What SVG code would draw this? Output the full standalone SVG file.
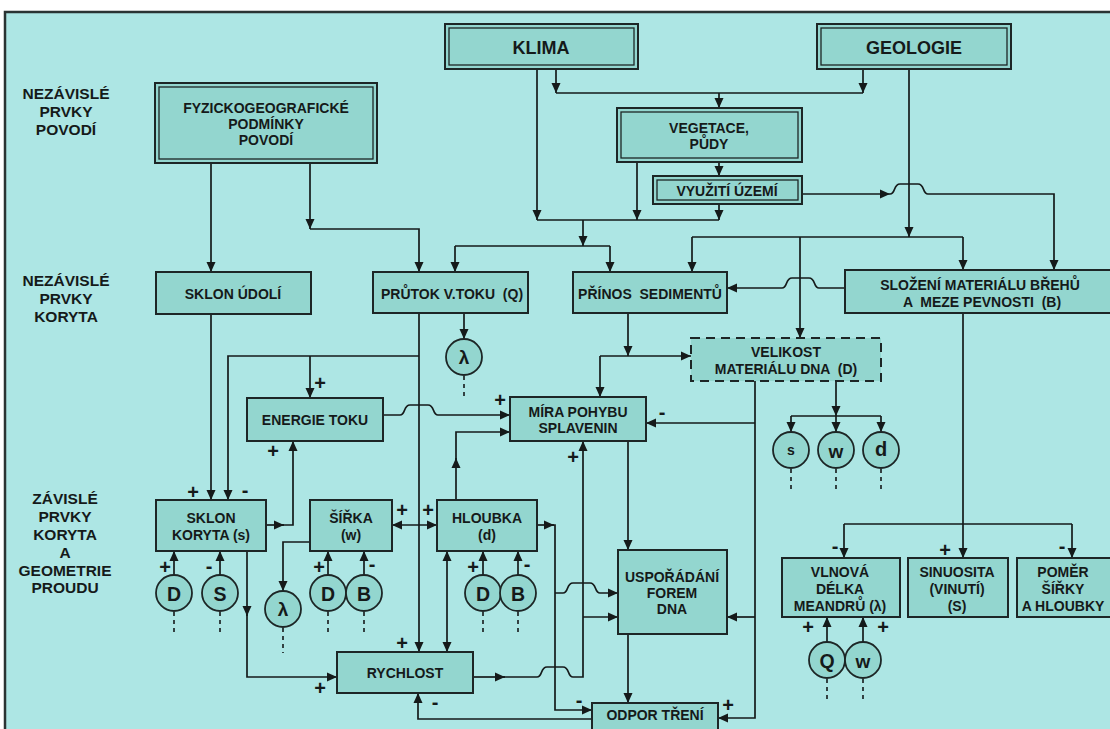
<svg xmlns="http://www.w3.org/2000/svg" width="1110" height="729" viewBox="0 0 1110 729">
<defs>
<marker id="ah" viewBox="0 0 10 10" refX="10" refY="5" markerWidth="10" markerHeight="10" markerUnits="userSpaceOnUse" orient="auto-start-reverse"><path d="M0,0.5 L10,5 L0,9.5 z" fill="#151a1a"/></marker>
<style>
.bg{fill:#ade6e4;stroke:#2a3333;stroke-width:2.5}
.box{fill:#93d6cf;stroke:#1d2626;stroke-width:2}
.dash{fill:#93d6cf;stroke:#1d2626;stroke-width:2;stroke-dasharray:9,6}
.in{fill:none;stroke:#1d2626;stroke-width:1.3}
.cir{fill:#93d6cf;stroke:#1d2626;stroke-width:1.8}
.ln{fill:none;stroke:#151a1a;stroke-width:1.7}
.dl{fill:none;stroke:#151a1a;stroke-width:1.6;stroke-dasharray:4,4}
.t{font-family:"Liberation Sans",Arial,sans-serif;font-weight:bold;font-size:14px;fill:#151a1a;text-anchor:middle}
.lab{font-family:"Liberation Sans",Arial,sans-serif;font-weight:bold;font-size:15.5px;fill:#151a1a;text-anchor:middle}
.big{font-family:"Liberation Sans",Arial,sans-serif;font-weight:bold;font-size:18px;fill:#151a1a;text-anchor:middle}
.cl{font-family:"Liberation Sans",Arial,sans-serif;font-weight:bold;font-size:19.5px;fill:#151a1a;text-anchor:middle;dominant-baseline:central}
.sg{font-family:"Liberation Sans",Arial,sans-serif;font-weight:bold;font-size:20px;fill:#151a1a;text-anchor:middle;dominant-baseline:central}
</style>
</defs>
<rect x="0" y="0" width="1110" height="729" fill="#ffffff"/>
<rect class="bg" x="5" y="12" width="1115" height="725"/>

<g id="labels">
<text class="lab" x="66" y="99">NEZÁVISLÉ</text>
<text class="lab" x="66" y="117">PRVKY</text>
<text class="lab" x="66" y="135">POVODÍ</text>
<text class="lab" x="66" y="286">NEZÁVISLÉ</text>
<text class="lab" x="66" y="304">PRVKY</text>
<text class="lab" x="66" y="322">KORYTA</text>
<text class="lab" x="65" y="504">ZÁVISLÉ</text>
<text class="lab" x="65" y="522">PRVKY</text>
<text class="lab" x="65" y="540">KORYTA</text>
<text class="lab" x="65" y="558">A</text>
<text class="lab" x="65" y="576">GEOMETRIE</text>
<text class="lab" x="65" y="593">PROUDU</text>
</g>

<g id="connectors">
<path class="ln" d="M556,70 V93" marker-end="url(#ah)"/>
<path class="ln" d="M863,70 V93" marker-end="url(#ah)"/>
<path class="ln" d="M556,93 H863"/>
<path class="ln" d="M719,93 V108" marker-end="url(#ah)"/>
<path class="ln" d="M719,162 V176" marker-end="url(#ah)"/>
<path class="ln" d="M537,70 V220" marker-end="url(#ah)"/>
<path class="ln" d="M637,162 V220" marker-end="url(#ah)"/>
<path class="ln" d="M719,204 V220" marker-end="url(#ah)"/>
<path class="ln" d="M537,220 H719"/>
<path class="ln" d="M583,220 V246" marker-end="url(#ah)"/>
<path class="ln" d="M455,246 H610"/>
<path class="ln" d="M455,246 V272" marker-end="url(#ah)"/>
<path class="ln" d="M610,246 V272" marker-end="url(#ah)"/>
<path class="ln" d="M211,163 V272" marker-end="url(#ah)"/>
<path class="ln" d="M310,163 V229" marker-end="url(#ah)"/>
<path class="ln" d="M310,229 H419 V272" marker-end="url(#ah)"/>
<path class="ln" d="M802,194 H890" marker-end="url(#ah)"/>
<path class="ln" d="M890,194 C896,194 893,184 900,184 H918 C925,184 922,194 928,194 H1054 V270" marker-end="url(#ah)"/>
<path class="ln" d="M909,69 V237" marker-end="url(#ah)"/>
<path class="ln" d="M692,237 H963"/>
<path class="ln" d="M692,237 V272" marker-end="url(#ah)"/>
<path class="ln" d="M800,237 V338" marker-end="url(#ah)"/>
<path class="ln" d="M963,237 V270" marker-end="url(#ah)"/>
<path class="ln" d="M845,288 H819 C813,288 816,278 809,278 H792 C785,278 788,288 782,288 H727" marker-end="url(#ah)"/>
<path class="ln" d="M628,313 V356" marker-end="url(#ah)"/>
<path class="ln" d="M600,356 H691" marker-end="url(#ah)"/>
<path class="ln" d="M600,356 V397" marker-end="url(#ah)"/>
<path class="ln" d="M755,381 V718 H718" marker-end="url(#ah)"/>
<path class="ln" d="M755,423 H646" marker-end="url(#ah)"/>
<path class="ln" d="M755,617 H727" marker-end="url(#ah)"/>
<path class="ln" d="M836,381 V416" marker-end="url(#ah)"/>
<path class="ln" d="M791,416 H881"/>
<path class="ln" d="M791,416 V432" marker-end="url(#ah)"/>
<path class="ln" d="M836,416 V432" marker-end="url(#ah)"/>
<path class="ln" d="M881,416 V432" marker-end="url(#ah)"/>
<path class="ln" d="M628,441 V550" marker-end="url(#ah)"/>
<path class="ln" d="M628,634 V703" marker-end="url(#ah)"/>
<path class="ln" d="M464,313 V339" marker-end="url(#ah)"/>
<path class="ln" d="M419,313 V652" marker-end="url(#ah)"/>
<path class="ln" d="M419,356 H228 V500" marker-end="url(#ah)"/>
<path class="ln" d="M310,356 V398" marker-end="url(#ah)"/>
<path class="ln" d="M211,314 V500" marker-end="url(#ah)"/>
<path class="ln" d="M383,415 H400 C406,415 403,405 410,405 H428 C435,405 432,415 438,415 H510" marker-end="url(#ah)"/>
<path class="ln" d="M456,500 V458" marker-end="url(#ah)"/>
<path class="ln" d="M456,460 V432 H510" marker-end="url(#ah)"/>
<path class="ln" d="M266,525 H284" marker-end="url(#ah)"/>
<path class="ln" d="M282,525 H293 V441" marker-end="url(#ah)"/>
<path class="ln" d="M392,525 H437" marker-start="url(#ah)" marker-end="url(#ah)"/>
<path class="ln" d="M310,542 H283 V591" marker-end="url(#ah)"/>
<path class="ln" d="M174,575 V551" marker-end="url(#ah)"/>
<path class="ln" d="M220,575 V551" marker-end="url(#ah)"/>
<path class="ln" d="M328,575 V551" marker-end="url(#ah)"/>
<path class="ln" d="M364,575 V551" marker-end="url(#ah)"/>
<path class="ln" d="M483,575 V551" marker-end="url(#ah)"/>
<path class="ln" d="M518,575 V551" marker-end="url(#ah)"/>
<path class="ln" d="M827,642 V617" marker-end="url(#ah)"/>
<path class="ln" d="M863,642 V617" marker-end="url(#ah)"/>
<path class="ln" d="M247,551 V616" marker-end="url(#ah)"/>
<path class="ln" d="M247,614 V677 H337" marker-end="url(#ah)"/>
<path class="ln" d="M447,551 V652" marker-start="url(#ah)" marker-end="url(#ah)"/>
<path class="ln" d="M537,525 H554" marker-end="url(#ah)"/>
<path class="ln" d="M552,525 H555 V710 H592" marker-end="url(#ah)"/>
<path class="ln" d="M555,593 H563 C569,593 566,583 573,583 H590 C597,583 594,593 600,593 H618" marker-end="url(#ah)"/>
<path class="ln" d="M473,677 H505" marker-end="url(#ah)"/>
<path class="ln" d="M503,677 H537 C543,677 540,667 547,667 H563 C570,667 567,677 573,677 H583 V441" marker-end="url(#ah)"/>
<path class="ln" d="M583,617 H618" marker-end="url(#ah)"/>
<path class="ln" d="M592,719 H418 V693" marker-end="url(#ah)"/>
<path class="ln" d="M963,313 V524"/>
<path class="ln" d="M844,524 H1072"/>
<path class="ln" d="M844,524 V558" marker-end="url(#ah)"/>
<path class="ln" d="M963,524 V558" marker-end="url(#ah)"/>
<path class="ln" d="M1072,524 V558" marker-end="url(#ah)"/>
<path class="dl" d="M464,376 V399 M791,469 V493 M836,469 V493 M881,469 V493 M174,612 V636 M220,612 V636 M328,612 V636 M364,612 V636 M483,612 V636 M518,612 V636 M283,628 V653 M827,679 V703 M863,679 V703"/>
</g>

<g id="signs">
<text class="sg" x="320" y="383">+</text>
<text class="sg" x="273" y="451">+</text>
<text class="sg" x="193" y="492">+</text>
<text class="sg" x="245" y="490">-</text>
<text class="sg" x="500" y="400">+</text>
<text class="sg" x="662" y="412">-</text>
<text class="sg" x="573" y="457">+</text>
<text class="sg" x="402" y="510">+</text>
<text class="sg" x="428" y="510">+</text>
<text class="sg" x="165" y="567">+</text>
<text class="sg" x="209" y="566">-</text>
<text class="sg" x="319" y="567">+</text>
<text class="sg" x="372" y="564">-</text>
<text class="sg" x="473" y="567">+</text>
<text class="sg" x="527" y="564">-</text>
<text class="sg" x="402" y="643">+</text>
<text class="sg" x="320" y="688">+</text>
<text class="sg" x="435" y="702">-</text>
<text class="sg" x="579" y="700">-</text>
<text class="sg" x="728" y="705">+</text>
<text class="sg" x="835" y="546">-</text>
<text class="sg" x="945" y="550">+</text>
<text class="sg" x="1062" y="546">-</text>
<text class="sg" x="808" y="627">+</text>
<text class="sg" x="883" y="627">+</text>
</g>

<g id="klima">
<rect class="box" x="445" y="24" width="193" height="45"/>
<rect class="in" x="449" y="28" width="185" height="37"/>
<text class="big" x="541" y="54">KLIMA</text>
</g>
<g id="geologie">
<rect class="box" x="817" y="24" width="194" height="45"/>
<rect class="in" x="821" y="28" width="186" height="37"/>
<text class="big" x="914" y="54">GEOLOGIE</text>
</g>
<g id="fyzicko">
<rect class="box" x="155" y="83" width="222" height="80"/>
<rect class="in" x="159" y="87" width="214" height="72"/>
<text class="t" x="266" y="113">FYZICKOGEOGRAFICKÉ</text>
<text class="t" x="266" y="129">PODMÍNKY</text>
<text class="t" x="266" y="145">POVODÍ</text>
</g>
<g id="vegetace">
<rect class="box" x="617" y="108" width="185" height="54"/>
<rect class="in" x="621" y="112" width="177" height="46"/>
<text class="t" x="709" y="133">VEGETACE,</text>
<text class="t" x="709" y="149">PŮDY</text>
</g>
<g id="vyuziti">
<rect class="box" x="653" y="176" width="149" height="28"/>
<rect class="in" x="657" y="180" width="141" height="20"/>
<text class="t" x="727" y="196">VYUŽITÍ ÚZEMÍ</text>
</g>
<g id="sklon-udoli">
<rect class="box" x="156" y="272" width="155" height="42"/>
<text class="t" x="233" y="299">SKLON ÚDOLÍ</text>
</g>
<g id="prutok">
<rect class="box" x="373" y="272" width="155" height="41"/>
<text class="t" x="452" y="299" xml:space="preserve">PRŮTOK V.TOKU  (Q)</text>
</g>
<g id="prinos">
<rect class="box" x="573" y="272" width="154" height="41"/>
<text class="t" x="650" y="299" xml:space="preserve">PŘÍNOS  SEDIMENTŮ</text>
</g>
<g id="slozeni">
<rect class="box" x="845" y="270" width="275" height="43"/>
<text class="t" x="980" y="290">SLOŽENÍ MATERIÁLU BŘEHŮ</text>
<text class="t" x="982" y="307" xml:space="preserve">A  MEZE PEVNOSTI  (B)</text>
</g>
<g id="lambda-q">
<circle class="cir" cx="464" cy="357" r="18"/>
<text class="cl" x="464" y="357" style="font-size:19px">λ</text>
</g>
<g id="velikost">
<rect class="dash" x="691" y="338" width="190" height="43"/>
<text class="t" x="786" y="357">VELIKOST</text>
<text class="t" x="786" y="374" xml:space="preserve">MATERIÁLU DNA  (D)</text>
</g>
<g id="mira">
<rect class="box" x="510" y="397" width="136" height="44"/>
<text class="t" x="578" y="417">MÍRA POHYBU</text>
<text class="t" x="578" y="433">SPLAVENIN</text>
</g>
<g id="energie">
<rect class="box" x="247" y="398" width="136" height="43"/>
<text class="t" x="315" y="425">ENERGIE TOKU</text>
</g>
<g id="c-s"><circle class="cir" cx="791" cy="450" r="18"/><text class="cl" x="791" y="450" style="font-size:14px">s</text></g>
<g id="c-w"><circle class="cir" cx="836" cy="450" r="18"/><text class="cl" x="836" y="451" style="font-size:19px">w</text></g>
<g id="c-d"><circle class="cir" cx="881" cy="450" r="18"/><text class="cl" x="881" y="449" style="font-size:20px">d</text></g>
<g id="sklon-koryta">
<rect class="box" x="156" y="500" width="110" height="51"/>
<text class="t" x="211" y="523">SKLON</text>
<text class="t" x="211" y="540">KORYTA (s)</text>
</g>
<g id="sirka">
<rect class="box" x="310" y="500" width="82" height="51"/>
<text class="t" x="351" y="523">ŠÍŘKA</text>
<text class="t" x="351" y="540">(w)</text>
</g>
<g id="hloubka">
<rect class="box" x="437" y="500" width="100" height="51"/>
<text class="t" x="487" y="523">HLOUBKA</text>
<text class="t" x="487" y="540">(d)</text>
</g>
<g id="c-D1"><circle class="cir" cx="174" cy="593" r="18"/><text class="cl" x="174" y="594">D</text></g>
<g id="c-S1"><circle class="cir" cx="220" cy="593" r="18"/><text class="cl" x="220" y="594">S</text></g>
<g id="c-lambda2"><circle class="cir" cx="283" cy="609" r="18"/><text class="cl" x="283" y="609" style="font-size:19px">λ</text></g>
<g id="c-D2"><circle class="cir" cx="328" cy="593" r="18"/><text class="cl" x="328" y="594">D</text></g>
<g id="c-B2"><circle class="cir" cx="364" cy="593" r="18"/><text class="cl" x="364" y="594">B</text></g>
<g id="c-D3"><circle class="cir" cx="483" cy="593" r="18"/><text class="cl" x="483" y="594">D</text></g>
<g id="c-B3"><circle class="cir" cx="518" cy="593" r="18"/><text class="cl" x="518" y="594">B</text></g>
<g id="usporadani">
<rect class="box" x="618" y="550" width="109" height="84"/>
<text class="t" x="672" y="582">USPOŘÁDÁNÍ</text>
<text class="t" x="672" y="598">FOREM</text>
<text class="t" x="672" y="614">DNA</text>
</g>
<g id="rychlost">
<rect class="box" x="337" y="652" width="136" height="41"/>
<text class="t" x="405" y="678">RYCHLOST</text>
</g>
<g id="odpor">
<rect class="box" x="592" y="703" width="126" height="30"/>
<text class="t" x="655" y="720">ODPOR TŘENÍ</text>
</g>
<g id="vlnova">
<rect class="box" x="782" y="558" width="118" height="59"/>
<text class="t" x="840" y="577">VLNOVÁ</text>
<text class="t" x="840" y="594">DÉLKA</text>
<text class="t" x="840" y="611">MEANDRŮ (λ)</text>
</g>
<g id="sinuosita">
<rect class="box" x="908" y="558" width="100" height="59"/>
<text class="t" x="957" y="577">SINUOSITA</text>
<text class="t" x="957" y="594">(VINUTÍ)</text>
<text class="t" x="957" y="611">(S)</text>
</g>
<g id="pomer">
<rect class="box" x="1017" y="558" width="110" height="59"/>
<text class="t" x="1063" y="577">POMĚR</text>
<text class="t" x="1063" y="594">ŠÍŘKY</text>
<text class="t" x="1063" y="611">A HLOUBKY</text>
</g>
<g id="c-Q"><circle class="cir" cx="827" cy="660" r="18"/><text class="cl" x="827" y="661">Q</text></g>
<g id="c-w2"><circle class="cir" cx="863" cy="660" r="18"/><text class="cl" x="863" y="661" style="font-size:19px">w</text></g>
</svg>
